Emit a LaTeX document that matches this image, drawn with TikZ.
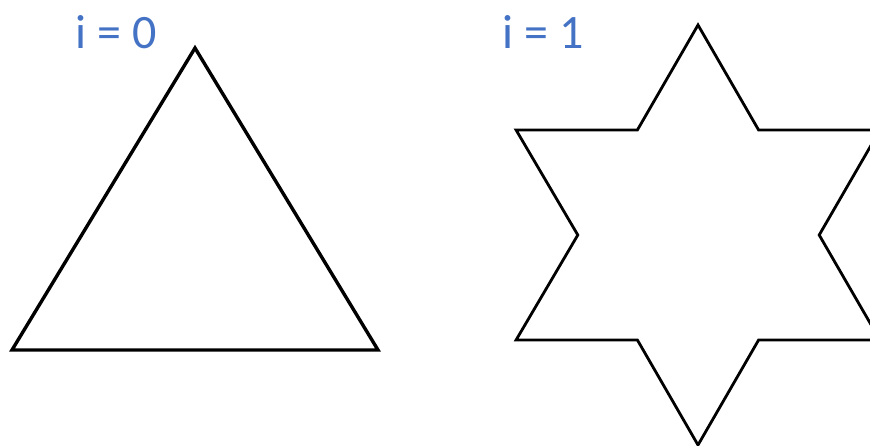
\documentclass[tikz,border=0pt]{standalone}
\usepackage{fontspec}
\setmainfont{Carlito}
\definecolor{lblue}{HTML}{4472C4}
\begin{document}
\begin{tikzpicture}[x=1pt,y=-1pt,
  lbl/.style={text=lblue,font=\fontsize{48}{50}\selectfont,inner sep=0pt,anchor=base},
  shapeline/.style={draw=black,line join=miter}]
\useasboundingbox (0,0) rectangle (870,445);
\clip (0,0) rectangle (870,445);
\node[lbl] (l0) at (116,48) {i = 0};
\node[lbl] (l1) at (543,48) {i = 1};
% triangle
\coordinate (t1) at (12,350);
\coordinate (t2) at (195,48);
\coordinate (t3) at (378,350);
\draw[shapeline,line width=3.4pt] (t1) -- (t2) -- (t3) -- cycle;
% star
\coordinate (s1) at (698,25);
\coordinate (s2) at (637.4,130);
\coordinate (s3) at (516.1,130);
\coordinate (s4) at (577.8,235);
\coordinate (s5) at (516.1,340);
\coordinate (s6) at (637.4,340);
\coordinate (s7) at (698,445);
\coordinate (s8) at (758.6,340);
\coordinate (s9) at (879.9,340);
\coordinate (s10) at (819.2,235);
\coordinate (s11) at (879.9,130);
\coordinate (s12) at (758.6,130);
\draw[shapeline,line width=2.8pt] (s1) -- (s2) -- (s3) -- (s4) -- (s5) -- (s6) -- (s7)
  -- (s8) -- (s9) -- (s10) -- (s11) -- (s12) -- cycle;
\end{tikzpicture}
\end{document}
